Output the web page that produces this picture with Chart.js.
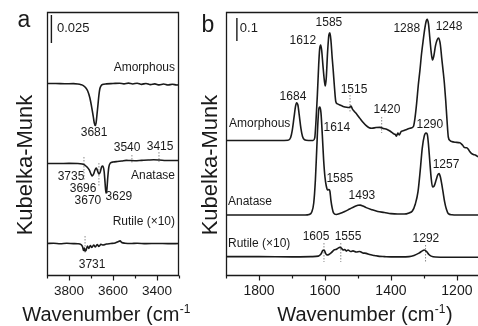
<!DOCTYPE html>
<html><head><meta charset="utf-8">
<script src="https://cdn.jsdelivr.net/npm/chart.js@4.4.1/dist/chart.umd.min.js"></script>
<style>
html,body{margin:0;padding:0;background:#fff;overflow:hidden}
#wrap{position:relative;width:478px;height:326px}
canvas{position:absolute;top:0}
</style></head>
<body><div id="wrap"><canvas id="ca" width="190" height="326" style="left:0"></canvas><canvas id="cb" width="288" height="326" style="left:190px"></canvas></div>
<script>
// ---------- Panel a (OH stretching region) ----------
const aTicks = [3300,3400,3500,3600,3700,3800,3900];
const aAmorWn = [3900,3860,3820,3780,3760,3745,3735,3725,3715,3705,3697,3690,3685,3681,3677,3673,3668,3664,3660,3655,3648,3630,3600,3570,3550,3530,3510,3490,3470,3450,3430,3410,3390,3370,3350,3330,3310,3300];
const aAmorKM = [0.1710,0.1710,0.1708,0.1709,0.1706,0.1700,0.1692,0.1674,0.1643,0.1581,0.1500,0.1420,0.1357,0.1335,0.1357,0.1429,0.1527,0.1607,0.1661,0.1688,0.1701,0.1707,0.1710,0.1713,0.1707,0.1714,0.1706,0.1713,0.1703,0.1711,0.1700,0.1707,0.1698,0.1706,0.1697,0.1704,0.1697,0.1701];
const aAnatWn = [3900,3850,3800,3760,3740,3728,3718,3708,3700,3694,3688,3682,3676,3670,3664,3658,3652,3646,3640,3636,3632,3628,3624,3619,3612,3600,3580,3560,3540,3520,3500,3470,3440,3415,3390,3360,3330,3300];
const aAnatKM = [0.0996,0.0996,0.0997,0.0996,0.0991,0.0982,0.0964,0.0938,0.0902,0.0884,0.0902,0.0938,0.0956,0.0929,0.0902,0.0920,0.0964,0.0973,0.0920,0.0822,0.0732,0.0759,0.0866,0.0964,0.1000,0.1009,0.1014,0.1018,0.1024,0.1022,0.1021,0.1024,0.1027,0.1029,0.1027,0.1023,0.1022,0.1022];
const aRutWn = [3900,3870,3840,3810,3780,3760,3745,3738,3734,3730,3727,3722,3716,3710,3703,3696,3688,3680,3672,3664,3655,3645,3630,3610,3590,3575,3568,3560,3545,3520,3490,3450,3400,3350,3300];
const aRutKM = [0.0281,0.0284,0.0279,0.0283,0.0280,0.0279,0.0272,0.0250,0.0219,0.0241,0.0214,0.0223,0.0259,0.0237,0.0263,0.0246,0.0268,0.0250,0.0272,0.0256,0.0274,0.0268,0.0277,0.0281,0.0286,0.0299,0.0305,0.0290,0.0284,0.0281,0.0284,0.0280,0.0282,0.0280,0.0281];
const aDotWn = [3732,3664,3514,3391,3727];
const aDotTop = [0.1054,0.1000,0.1072,0.1098,0.0348];
const aDotBot = [0.0848,0.0786,0.1000,0.1009,0.0196];
const aBarWn = 3880, aBarKM = [0.2072,0.2322];
const aLabText = ['Amorphous','3681','3540','3415','3735','3696','3670','3629','Anatase','Rutile (×10)','3731','0.025'];
const aLabWn = [3318,3686,3536,3386,3791,3736,3714,3573,3318,3318,3695,3855];
const aLabKM = [0.1849,0.1268,0.1134,0.1143,0.0875,0.0768,0.0661,0.0697,0.0884,0.0473,0.0089,0.2206];
const aLabAlign = ['right','center','center','center','center','center','center','center','right','right','center','left'];

// ---------- Panel b (fingerprint region) ----------
const bTicks = [1200,1300,1400,1500,1600,1700,1800,1900];
const bAmorWn = [1900,1800,1740,1712,1704,1699,1694,1689,1686,1682,1678,1673,1668,1662,1650,1636,1631,1627,1623,1619,1616,1613,1610,1606,1602,1599,1596,1592,1588,1585,1582,1578,1575,1571,1567,1562,1555,1545,1534,1526,1521,1517,1512,1503,1494,1484,1474,1466,1458,1445,1433,1423,1413,1403,1393,1387,1383,1379,1375,1369,1363,1352,1342,1332,1327,1322,1317,1312,1307,1302,1297,1293,1290,1286,1282,1278,1274,1270,1265,1260,1255,1250,1246,1242,1238,1234,1230,1226,1221,1216,1205,1191,1183,1177,1170,1166,1161,1156,1150,1144,1136];
const bAmorKM = [0.585,0.585,0.585,0.586,0.598,0.630,0.683,0.735,0.749,0.739,0.696,0.639,0.602,0.588,0.585,0.585,0.596,0.674,0.783,0.913,0.983,1.000,0.978,0.909,0.848,0.822,0.857,0.970,1.044,1.053,1.022,0.943,0.891,0.813,0.753,0.744,0.739,0.733,0.729,0.728,0.735,0.722,0.713,0.698,0.681,0.663,0.648,0.640,0.638,0.641,0.642,0.637,0.634,0.626,0.615,0.611,0.604,0.617,0.609,0.624,0.627,0.633,0.638,0.645,0.683,0.747,0.826,0.891,0.964,1.022,1.074,1.104,1.112,1.091,1.030,0.970,0.935,0.952,0.996,1.022,1.030,1.000,0.943,0.891,0.835,0.761,0.674,0.600,0.585,0.580,0.577,0.575,0.565,0.554,0.553,0.548,0.537,0.529,0.524,0.522,0.514];
const bAnatWn = [1900,1800,1700,1660,1648,1640,1634,1629,1625,1621,1618,1615,1612,1608,1604,1600,1596,1592,1588,1585,1582,1578,1574,1566,1555,1540,1525,1510,1500,1493,1485,1475,1460,1440,1420,1400,1380,1360,1345,1335,1326,1318,1311,1305,1299,1294,1290,1286,1282,1278,1274,1269,1263,1258,1254,1250,1246,1242,1237,1232,1226,1215,1200,1136];
const bAnatKM = [0.261,0.261,0.261,0.261,0.263,0.274,0.313,0.413,0.543,0.674,0.726,0.730,0.704,0.609,0.500,0.426,0.387,0.370,0.372,0.365,0.326,0.291,0.270,0.263,0.267,0.276,0.287,0.298,0.303,0.304,0.300,0.293,0.285,0.276,0.272,0.267,0.265,0.265,0.270,0.278,0.309,0.361,0.457,0.552,0.604,0.617,0.613,0.565,0.491,0.422,0.383,0.387,0.413,0.435,0.441,0.426,0.396,0.361,0.317,0.287,0.267,0.262,0.261,0.261];
const bRutWn = [1900,1800,1700,1640,1620,1612,1606,1602,1598,1594,1588,1580,1572,1565,1560,1555,1550,1545,1540,1535,1530,1522,1515,1505,1495,1485,1475,1465,1450,1435,1420,1400,1370,1345,1330,1315,1305,1299,1292,1285,1278,1265,1230,1200,1136];
const bRutKM = [0.080,0.080,0.079,0.080,0.082,0.091,0.107,0.107,0.094,0.087,0.089,0.098,0.109,0.112,0.117,0.120,0.117,0.109,0.111,0.104,0.109,0.102,0.105,0.100,0.102,0.096,0.094,0.089,0.085,0.081,0.080,0.079,0.079,0.080,0.085,0.095,0.105,0.109,0.102,0.089,0.082,0.078,0.077,0.077,0.077];
const bDotWn = [1524,1428,1603,1552,1295];
const bDotTop = [0.7826,0.6870,0.1391,0.1391,0.1304];
const bDotBot = [0.7087,0.6174,0.0565,0.0565,0.0565];
const bBarWn = 1867, bBarKM = [1.0174,1.1174];
const bLabText = ['1585','1612','1288','1248','1515','1420','1684','Amorphous','1614','1290','1257','1585','1493','Anatase','Rutile (×10)','1605','1555','1292','0.1'];
const bLabWn = [1588,1667,1352,1224,1512,1412,1697,1891,1564,1282,1233,1555,1488,1894,1894,1627,1530,1294,1858];
const bLabKM = [1.0957,1.0174,1.0696,1.0783,0.8044,0.7174,0.7739,0.6565,0.6391,0.6522,0.4783,0.4174,0.3435,0.3174,0.1348,0.1652,0.1652,0.1565,1.0740];
const bLabAlign = ['center','center','center','center','center','center','center','left','center','center','center','center','center','left','left','center','center','center','left'];

const FONT = '"Liberation Sans", Arial, Helvetica, sans-serif';
const INK = '#1a1a1a';

function curve(wn, km) {
  return { data: wn.map((w, i) => ({ x: w, y: km[i] })), borderColor: INK, borderWidth: 1.6,
    pointRadius: 0, fill: false, cubicInterpolationMode: 'monotone' };
}
function dots(wn, top, bot) {
  return wn.map((w, i) => ({ data: [{ x: w, y: top[i] }, { x: w, y: bot[i] }], borderColor: '#8a8a8a',
    borderWidth: 1, borderDash: [1.5, 1.5], pointRadius: 0, fill: false }));
}
function bar(w, km) {
  return { data: [{ x: w, y: km[0] }, { x: w, y: km[1] }], borderColor: INK, borderWidth: 1.4, pointRadius: 0, fill: false };
}

const decor = {
  id: 'decor',
  afterDraw(chart, args, o) {
    const ctx = chart.ctx, ca = chart.chartArea, xs = chart.scales.x, ys = chart.scales.y;
    ctx.save();
    ctx.strokeStyle = INK; ctx.lineWidth = 1.3;
    const L = ca.left + 0.5, T = ca.top + 0.5, B = ca.bottom + 0.5;
    ctx.beginPath();
    if (o.openRight) {
      const R = chart.width;
      ctx.moveTo(R, T); ctx.lineTo(L, T); ctx.lineTo(L, B); ctx.lineTo(R, B);
    } else {
      ctx.rect(L, T, ca.right - 0.5 - L, B - T);
    }
    ctx.stroke();
    ctx.lineWidth = 1.2;
    o.ticks.forEach(v => {
      const px = Math.round(xs.getPixelForValue(v)) + 0.5;
      const len = (v % 200 === 0) ? 5 : 3;
      ctx.beginPath(); ctx.moveTo(px, B); ctx.lineTo(px, B + len); ctx.stroke();
    });
    ctx.fillStyle = INK;
    ctx.textBaseline = 'middle';
    o.text.forEach((t, i) => {
      ctx.font = (t.startsWith('0.') ? 13 : 12) + 'px ' + FONT;
      ctx.textAlign = o.align[i];
      ctx.fillText(t, xs.getPixelForValue(o.wn[i]), ys.getPixelForValue(o.km[i]));
    });
    // y title
    ctx.save();
    ctx.translate(ca.left - o.yGap, ca.top + 153);
    ctx.rotate(-Math.PI / 2);
    ctx.font = '22px ' + FONT; ctx.textAlign = 'center'; ctx.textBaseline = 'alphabetic';
    ctx.fillText('Kubelka-Munk', 0, 0);
    ctx.restore();
    // x title with superscript
    ctx.textBaseline = 'alphabetic'; ctx.textAlign = 'left';
    const main = 'Wavenumber (cm', sup = '-1', end = ')';
    ctx.font = '20px ' + FONT; const w1 = ctx.measureText(main).width, w3 = ctx.measureText(end).width;
    ctx.font = '12px ' + FONT; const w2 = ctx.measureText(sup).width;
    let x0 = ca.left + o.xTitleDx - (w1 + w2 + w3 + 1) / 2;
    const yb = 321;
    ctx.font = '20px ' + FONT; ctx.fillText(main, x0, yb);
    ctx.font = '12px ' + FONT; ctx.fillText(sup, x0 + w1 + 0.5, yb - 8);
    ctx.font = '20px ' + FONT; ctx.fillText(end, x0 + w1 + w2 + 1, yb);
    // panel letter
    ctx.font = '23px ' + FONT; ctx.textAlign = 'center';
    ctx.fillText(o.letter, ca.left - o.letterDx, o.letterY);
    ctx.restore();
  }
};

function xAxis(min, max, ticks, fs) {
  return {
    type: 'linear', min, max, reverse: true,
    afterBuildTicks: s => { s.ticks = ticks.map(v => ({ value: v })); },
    ticks: { autoSkip: false, maxRotation: 0, padding: 3, color: INK, font: { family: FONT, size: fs },
      callback: v => (v % 200 === 0 ? String(v) : '') },
    grid: { display: true, drawOnChartArea: false, drawTicks: true, tickLength: 5,
      color: 'rgba(0,0,0,0)', tickColor: 'rgba(0,0,0,0)' },
    border: { display: false },
    afterFit: s => { s.height = 51; }
  };
}

function makeChart(id, datasets, xcfg, ymax, pad, decorOpts) {
  return new Chart(document.getElementById(id), {
    type: 'line',
    data: { datasets },
    options: {
      responsive: false, animation: false, events: [],
      layout: { padding: pad },
      plugins: { legend: { display: false }, tooltip: { enabled: false }, decor: decorOpts },
      scales: { x: xcfg, y: { display: false, min: 0, max: ymax } }
    },
    plugins: [decor]
  });
}

makeChart('ca',
  [curve(aAmorWn, aAmorKM), curve(aAnatWn, aAnatKM), curve(aRutWn, aRutKM), bar(aBarWn, aBarKM)].concat(dots(aDotWn, aDotTop, aDotBot)),
  xAxis(3300, 3900, aTicks, 13.5), 0.2349,
  { left: 47, right: 11, top: 12, bottom: 0 },
  { openRight: false, ticks: aTicks, text: aLabText, wn: aLabWn, km: aLabKM, align: aLabAlign,
    yGap: 15, xTitleDx: 63, letter: 'a', letterDx: 23, letterY: 27 });

makeChart('cb',
  [curve(bAmorWn, bAmorKM), curve(bAnatWn, bAnatKM), curve(bRutWn, bRutKM), bar(bBarWn, bBarKM)].concat(dots(bDotWn, bDotTop, bDotBot)),
  xAxis(1136, 1900, bTicks, 14), 1.1435,
  { left: 36, right: 0, top: 12, bottom: 0 },
  { openRight: true, ticks: bTicks, text: bLabText, wn: bLabWn, km: bLabKM, align: bLabAlign,
    yGap: 9, xTitleDx: 139, letter: 'b', letterDx: 18, letterY: 32 });
</script>
</body></html>
